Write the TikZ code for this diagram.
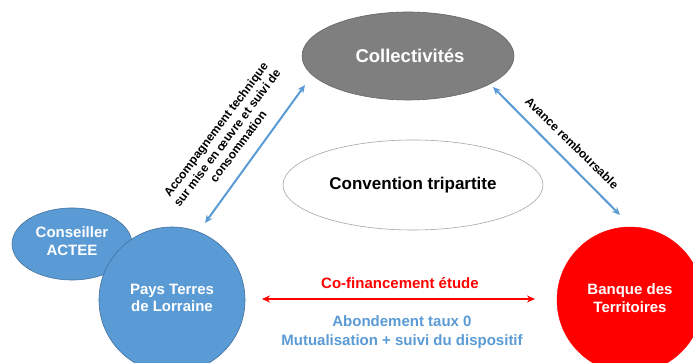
\documentclass[tikz,border=0pt]{standalone}
\usepackage{fontspec}
\setmainfont{Liberation Sans}
\usetikzlibrary{arrows.meta,shapes.geometric}
\definecolor{offblue}{HTML}{5B9BD5}
\definecolor{offblueline}{HTML}{41719C}
\definecolor{offgray}{HTML}{7F7F7F}
\definecolor{offred}{HTML}{FF0000}
\tikzset{
  bluebubble/.style={fill=offblue, draw=offblueline, line width=0.6pt, text=white, font=\bfseries\fontsize{15}{18}\selectfont, align=center},
  bluearrow/.style={draw=offblue, line width=2pt, {Stealth[length=8pt,width=7pt]}-{Stealth[length=8pt,width=7pt]}},
  redarrow/.style={draw=offred, line width=2pt, {Stealth[length=8pt,width=7pt]}-{Stealth[length=8pt,width=7pt]}},
  smalllabel/.style={font=\bfseries\fontsize{12}{14}\selectfont, align=center},
}
\begin{document}
\begin{tikzpicture}[x=1pt,y=1pt]
\useasboundingbox (0,0) rectangle (693,363);
\clip (0,0) rectangle (693,363);
\fill[white] (0,0) rectangle (693,363);
% ellipses
\node[ellipse, fill=offgray, draw=offgray!80!black, line width=0.6pt, minimum width=212pt, minimum height=88pt, inner sep=0pt] (coll) at (408,307) {};
\node[text=white, font=\bfseries\fontsize{18.5}{21}\selectfont] (collt) at (410,307) {Collectivités};
\node[ellipse, fill=white, draw=gray!70, line width=0.6pt, minimum width=260pt, minimum height=90pt, inner sep=0pt] (conv) at (413,178) {};
\node[font=\bfseries\fontsize{17}{20}\selectfont] (convt) at (413,178) {Convention tripartite};
\node[ellipse, bluebubble, minimum width=120pt, minimum height=72pt, inner sep=0pt] (cons) at (72,119) {};
\node[text=white, font=\bfseries\fontsize{15}{17.5}\selectfont, align=center] (const) at (72,122) {Conseiller\\ACTEE};
\node[circle, bluebubble, minimum size=146pt, inner sep=0pt] (pays) at (172,63) {};
\node[text=white, font=\bfseries\fontsize{15}{17.5}\selectfont, align=center] (payst) at (172,65) {Pays Terres\\de Lorraine};
\node[circle, fill=offred, draw=offred, minimum size=146pt, inner sep=0pt] (banq) at (630,63) {};
\node[text=white, font=\bfseries\fontsize{15}{17.5}\selectfont, align=center] (banqt) at (630,65) {Banque des\\Territoires};
% arrow ends
\coordinate (a1) at (205,140);
\coordinate (a2) at (305,278);
\coordinate (b1) at (493,276);
\coordinate (b2) at (620,148);
\coordinate (c1) at (262,64);
\coordinate (c2) at (535,64);
\draw[bluearrow] (a1) -- (a2);
\draw[bluearrow] (b1) -- (b2);
\draw[redarrow] (c1) -- (c2);
% labels
\node[smalllabel, rotate=53] (lacc) at (227,225) {Accompagnement technique\\sur mise en œuvre et suivi de\\consommation};
\node[smalllabel, rotate=-44.5] (lav) at (572,220) {Avance remboursable};
\node[text=offred, font=\bfseries\fontsize{15}{18}\selectfont] (lco) at (400,80) {Co-financement étude};
\node[text=offblue, font=\bfseries\fontsize{15}{19}\selectfont, align=center] (lab) at (402,31) {Abondement taux 0\\Mutualisation + suivi du dispositif};
\end{tikzpicture}
\end{document}
